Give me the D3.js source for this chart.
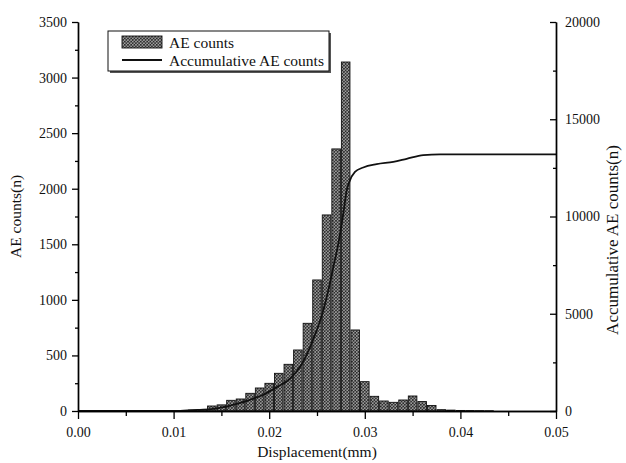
<!DOCTYPE html>
<html>
<head>
<meta charset="utf-8">
<script src="https://cdn.jsdelivr.net/npm/d3@7"></script>
<style>
  html, body { margin: 0; padding: 0; background: #fff; }
  svg text { font-family: "Liberation Serif", "Times New Roman", serif; fill: #111; }
</style>
</head>
<body>
<div id="chart"></div>
<script>
// Histogram bins (bin centre, mm) and AE counts per bin
const displacement = [0.010, 0.011, 0.012, 0.013, 0.014, 0.015, 0.016, 0.017, 0.018, 0.019,
                      0.020, 0.021, 0.022, 0.023, 0.024, 0.025, 0.026, 0.027, 0.028, 0.029,
                      0.030, 0.031, 0.032, 0.033, 0.034, 0.035, 0.036, 0.037, 0.038, 0.039,
                      0.040, 0.041, 0.042, 0.043];
const aeCounts = [2, 4, 8, 14, 45, 55, 96, 108, 159, 207,
                  249, 339, 420, 549, 789, 1179, 1764, 2358, 3140, 729,
                  264, 132, 90, 78, 99, 135, 85, 50, 12, 8,
                  5, 4, 3, 2];

// Accumulative AE counts curve
const cumX = [0, 0.008, 0.0107, 0.01276, 0.01415, 0.0152, 0.0166, 0.01799, 0.01938, 0.02078,
              0.02218, 0.0234, 0.02427, 0.02497, 0.02566, 0.02618, 0.02671, 0.02723, 0.02775, 0.02811,
              0.02838, 0.02897, 0.02984, 0.03124, 0.03298, 0.03438, 0.03612, 0.03787, 0.05];
const cumY = [0, 0, 10, 62, 113, 196, 371, 577, 834, 1225,
              1658, 2400, 3284, 4144, 5174, 6203, 7403, 8607, 10152, 11351,
              11779, 12293, 12520, 12690, 12808, 12963, 13153, 13190, 13190];

// Axis ticks
const xTicks = [0, 0.01, 0.02, 0.03, 0.04, 0.05];
const xMinor = [0.005, 0.015, 0.025, 0.035, 0.045];
const yLeftTicks = [0, 500, 1000, 1500, 2000, 2500, 3000, 3500];
const yLeftMinor = [250, 750, 1250, 1750, 2250, 2750, 3250];
const yRightTicks = [0, 5000, 10000, 15000, 20000];
const yRightMinor = [2500, 7500, 12500, 17500];

const binWidth = 0.001;
const W = 626, H = 463;
const plot = { left: 78, right: 556, top: 22, bottom: 411 };

const svg = d3.select("#chart").append("svg")
  .attr("width", W).attr("height", H);

// Cross-hatched fill for the histogram bars
const defs = svg.append("defs");
const pat = defs.append("pattern")
  .attr("id", "hatch").attr("patternUnits", "userSpaceOnUse")
  .attr("width", 3.2).attr("height", 3.2);
pat.append("rect").attr("width", 3.2).attr("height", 3.2).attr("fill", "#f4f4f4");
pat.append("path").attr("d", "M0,0L3.2,3.2M3.2,0L0,3.2M-0.8,0.8L0.8,-0.8M2.4,4L4,2.4")
  .attr("stroke", "#2a2a2a").attr("stroke-width", 1.05).attr("fill", "none");

const x = d3.scaleLinear().domain([0, 0.05]).range([plot.left, plot.right]);
const yL = d3.scaleLinear().domain([0, 3500]).range([plot.bottom, plot.top]);
const yR = d3.scaleLinear().domain([0, 20000]).range([plot.bottom, plot.top]);

// Bars
const bars = displacement.map((d, i) => ({ x: d, v: aeCounts[i] }));
const barPx = x(binWidth) - x(0);
svg.append("g").selectAll("rect").data(bars).join("rect")
  .attr("x", d => x(d.x - binWidth / 2) + 0.5)
  .attr("width", barPx - 1)
  .attr("y", d => yL(d.v))
  .attr("height", d => yL(0) - yL(d.v))
  .attr("fill", "url(#hatch)")
  .attr("stroke", "#111").attr("stroke-width", 0.9);

// Accumulative curve
const cum = cumX.map((d, i) => [d, cumY[i]]);
svg.append("path").datum(cum)
  .attr("d", d3.line().x(d => x(d[0])).y(d => yR(d[1])).curve(d3.curveMonotoneX))
  .attr("fill", "none").attr("stroke", "#111").attr("stroke-width", 1.8);

function styleAxis(g) {
  g.selectAll(".domain").attr("stroke", "#000").attr("stroke-width", 1.4);
  g.selectAll(".tick line").attr("stroke", "#000").attr("stroke-width", 1.3);
  g.selectAll("text").attr("font-size", 14).attr("fill", "#111")
    .attr("font-family", "'Liberation Serif', 'Times New Roman', serif");
}

// Bottom axis
const gx = svg.append("g").attr("transform", `translate(0,${plot.bottom})`)
  .call(d3.axisBottom(x).tickValues(xTicks).tickFormat(d3.format(".2f"))
    .tickSize(8).tickSizeOuter(0).tickPadding(8));
styleAxis(gx);
const gxm = svg.append("g").attr("transform", `translate(0,${plot.bottom})`)
  .call(d3.axisBottom(x).tickValues(xMinor).tickFormat("").tickSize(5).tickSizeOuter(0));
styleAxis(gxm);

// Left axis
const gl = svg.append("g").attr("transform", `translate(${plot.left},0)`)
  .call(d3.axisLeft(yL).tickValues(yLeftTicks).tickFormat(d3.format("d"))
    .tickSize(6).tickSizeOuter(0).tickPadding(5));
styleAxis(gl);
const glm = svg.append("g").attr("transform", `translate(${plot.left},0)`)
  .call(d3.axisLeft(yL).tickValues(yLeftMinor).tickFormat("").tickSize(3).tickSizeOuter(0));
styleAxis(glm);

// Right axis (ticks point into the plot)
const gr = svg.append("g").attr("transform", `translate(${plot.right},0)`)
  .call(d3.axisRight(yR).tickValues(yRightTicks).tickFormat(d3.format("d"))
    .tickSizeInner(-6).tickSizeOuter(0).tickPadding(9));
styleAxis(gr);
const grm = svg.append("g").attr("transform", `translate(${plot.right},0)`)
  .call(d3.axisRight(yR).tickValues(yRightMinor).tickFormat("").tickSizeInner(-3).tickSizeOuter(0));
styleAxis(grm);

// Axis titles
svg.append("text").attr("x", (plot.left + plot.right) / 2).attr("y", 457)
  .attr("text-anchor", "middle").attr("font-size", 15.5).text("Displacement(mm)");
svg.append("text").attr("transform", `translate(21,${(plot.top + plot.bottom) / 2}) rotate(-90)`)
  .attr("text-anchor", "middle").attr("font-size", 15.5).text("AE counts(n)");
svg.append("text").attr("transform", `translate(618,240) rotate(-90)`)
  .attr("text-anchor", "middle").attr("font-size", 17).text("Accumulative AE counts(n)");

// Legend
const lg = svg.append("g");
lg.append("rect").attr("x", 110).attr("y", 33).attr("width", 221).attr("height", 40)
  .attr("fill", "#555");
lg.append("rect").attr("x", 108).attr("y", 31).attr("width", 221).attr("height", 40)
  .attr("fill", "#fff").attr("stroke", "#111").attr("stroke-width", 1);
lg.append("rect").attr("x", 122).attr("y", 36).attr("width", 40).attr("height", 12)
  .attr("fill", "url(#hatch)").attr("stroke", "#111").attr("stroke-width", 0.9);
lg.append("text").attr("x", 169).attr("y", 47.5).attr("font-size", 15.5).text("AE counts");
lg.append("line").attr("x1", 122).attr("x2", 162).attr("y1", 60).attr("y2", 60)
  .attr("stroke", "#111").attr("stroke-width", 1.8);
lg.append("text").attr("x", 169).attr("y", 65.5).attr("font-size", 15.5).text("Accumulative AE counts");
</script>
</body>
</html>
